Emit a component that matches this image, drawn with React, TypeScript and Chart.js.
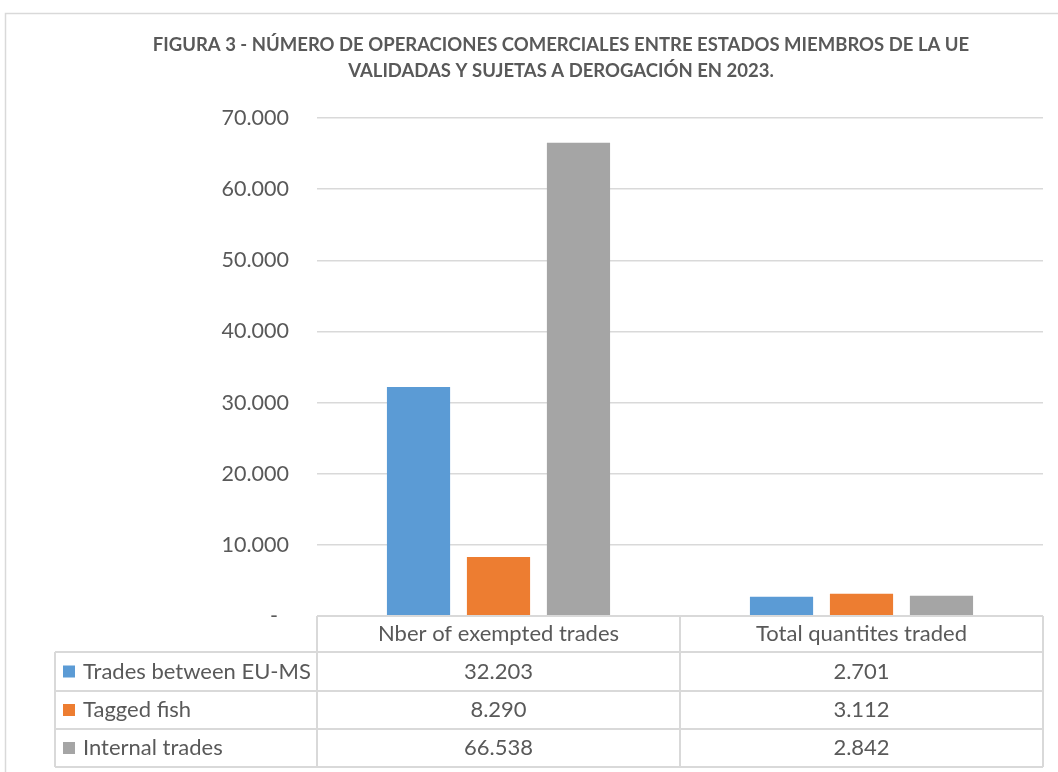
import React, { useEffect, useRef } from "react";
import { Chart, registerables } from "chart.js";

Chart.register(...registerables);

const titleLines = [
  "FIGURA 3 - NÚMERO DE OPERACIONES COMERCIALES ENTRE ESTADOS MIEMBROS DE LA UE",
  "VALIDADAS Y SUJETAS A DEROGACIÓN EN 2023.",
];
const categories = ["Nber of exempted trades", "Total quantites traded"];
const seriesNames = ["Trades between EU-MS", "Tagged fish", "Internal trades"];
const tradesBetweenEUMS = [32203, 2701];
const taggedFish = [8290, 3112];
const internalTrades = [66538, 2842];
const seriesColors = ["#5b9bd5", "#ed7d31", "#a5a5a5"];
const yMax = 70000;
const yStep = 10000;

const FONT = "Lato, 'Open Sans', sans-serif";
const TEXT = "#595959";
const LINE = "#d9d9d9";

function fmt(v: number): string {
  if (v === 0) return "-  ";
  return String(Math.round(v)).replace(/\B(?=(\d{3})+(?!\d))/g, ".");
}

const tablePlugin = {
  id: "dataTable",
  afterDraw(chart: any) {
    const ctx = chart.ctx;
    const area = chart.chartArea;
    const xs = chart.scales.x;
    const left = area.left;
    const right = area.right;
    const mid = (xs.getPixelForValue(0) + xs.getPixelForValue(1)) / 2;
    const top = area.bottom;
    const rows = [top, top + 36, top + 75, top + 113, top + 151];
    const legendLeft = 55;
    ctx.save();
    // frame
    ctx.strokeStyle = LINE;
    ctx.lineWidth = 1.5;
    ctx.strokeRect(5.5, 13.5, 1200, 1000);
    // title
    ctx.fillStyle = TEXT;
    ctx.font = `bold 18.5px ${FONT}`;
    ctx.textAlign = "center";
    ctx.textBaseline = "middle";
    ctx.fillText(titleLines[0], 561, 45);
    ctx.fillText(titleLines[1], 561, 71);
    // table lines
    ctx.strokeStyle = LINE;
    ctx.lineWidth = 2;
    ctx.beginPath();
    ctx.moveTo(left, rows[0]);
    ctx.lineTo(right, rows[0]);
    for (let i = 1; i < rows.length; i++) {
      ctx.moveTo(legendLeft, rows[i]);
      ctx.lineTo(right, rows[i]);
    }
    [left, mid, right].forEach((x) => {
      ctx.moveTo(x, rows[0]);
      ctx.lineTo(x, rows[rows.length - 1]);
    });
    ctx.moveTo(legendLeft, rows[1]);
    ctx.lineTo(legendLeft, rows[rows.length - 1]);
    ctx.stroke();
    // header
    ctx.font = `22px ${FONT}`;
    ctx.fillStyle = TEXT;
    ctx.textAlign = "center";
    categories.forEach((c, i) => {
      ctx.fillText(c, xs.getPixelForValue(i), (rows[0] + rows[1]) / 2);
    });
    chart.data.datasets.forEach((ds: any, r: number) => {
      const cy = (rows[r + 1] + rows[r + 2]) / 2;
      ctx.fillStyle = ds.backgroundColor;
      ctx.fillRect(63, cy - 6, 12, 12);
      ctx.fillStyle = TEXT;
      ctx.textAlign = "left";
      ctx.fillText(ds.label, 83, cy);
      ctx.textAlign = "center";
      ds.data.forEach((v: number, i: number) => {
        ctx.fillText(fmt(v), xs.getPixelForValue(i), cy);
      });
    });
    ctx.restore();
  },
};

export default function App() {
  const ref = useRef<HTMLCanvasElement | null>(null);
  useEffect(() => {
    document.body.style.margin = "0";
    const canvas = ref.current!;
    const chart = new Chart(canvas, {
      type: "bar",
      data: {
        labels: categories,
        datasets: [
          { label: seriesNames[0], data: tradesBetweenEUMS, backgroundColor: seriesColors[0] },
          { label: seriesNames[1], data: taggedFish, backgroundColor: seriesColors[1] },
          { label: seriesNames[2], data: internalTrades, backgroundColor: seriesColors[2] },
        ],
      },
      options: {
        responsive: false,
        animation: false,
        devicePixelRatio: 1,
        layout: { padding: { top: 118, right: 15, left: 0, bottom: 0 } },
        datasets: { bar: { categoryPercentage: 0.661, barPercentage: 0.79 } },
        plugins: {
          legend: { display: false },
          title: { display: false },
          tooltip: { enabled: false },
        },
        scales: {
          x: {
            ticks: { display: false },
            grid: { display: false },
            border: { display: false },
            afterFit: (s: any) => {
              s.height = 156;
            },
          },
          y: {
            min: 0,
            max: yMax,
            ticks: {
              stepSize: yStep,
              padding: 28,
              color: TEXT,
              font: { family: FONT, size: 21.5 },
              callback: (v: any) => fmt(Number(v)),
            },
            grid: { color: LINE, lineWidth: 1.5, drawTicks: false },
            border: { display: false },
            afterFit: (s: any) => {
              s.width = 317;
            },
          },
        },
      },
      plugins: [tablePlugin],
    });
    return () => chart.destroy();
  }, []);
  return (
    <div style={{ width: 1058, height: 772, background: "#fff" }}>
      <canvas ref={ref} width={1058} height={772} />
    </div>
  );
}
